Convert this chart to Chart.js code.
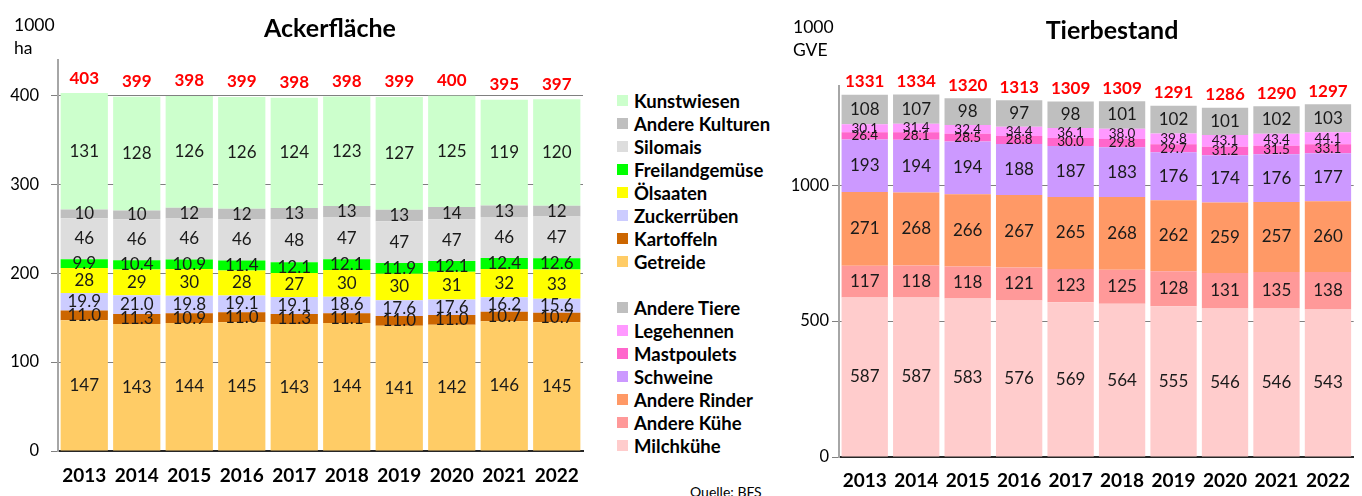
<!DOCTYPE html>
<html lang="de">
<head>
<meta charset="UTF-8">
<title>Ackerfläche und Tierbestand</title>
<script src="https://cdn.jsdelivr.net/npm/chart.js"></script>
<style>
    body {
        margin: 0;
        width: 1362px;
        height: 496px;
        overflow: hidden;
        position: relative;
        background: #fff;
        color: #000;
        font-family: Lato, 'Open Sans', sans-serif;
    }
    canvas { position: absolute; top: 0; }
    #acker { left: 0; }
    #tiere { left: 780px; }
    .title {
        position: absolute;
        font-weight: bold;
        font-size: 25px;
        transform: translateX(-50%);
        white-space: nowrap;
    }
    .unit { position: absolute; font-size: 17.5px; line-height: 23px; }
    .legend { position: absolute; left: 617px; font-weight: bold; font-size: 18.5px; }
    .legend div { height: 23px; display: flex; align-items: center; white-space: nowrap; }
    .legend .box { width: 11px; height: 11px; margin-right: 6px; flex: none; }
    .source { position: absolute; left: 690px; top: 483px; font-size: 14px; }
</style>
</head>
<body>
    <canvas id="acker" width="600" height="496"></canvas>
    <canvas id="tiere" width="582" height="496"></canvas>

    <div class="title" style="left:330px; top:12px;">Ackerfläche</div>
    <div class="title" style="left:1112px; top:14px;">Tierbestand</div>
    <div class="unit" style="left:14px; top:13px;">1000<br>ha</div>
    <div class="unit" style="left:793px; top:15px;">1000<br>GVE</div>
    <div class="legend" id="legAcker" style="top:89px;"></div>
    <div class="legend" id="legTiere" style="top:296px;"></div>
    <div class="source">Quelle: BFS</div>

<script>
    // years
    const years = ['2013', '2014', '2015', '2016', '2017', '2018', '2019', '2020', '2021', '2022'];

    // Ackerfläche, 1000 ha
    const getreide       = [147, 143, 144, 145, 143, 144, 141, 142, 146, 145];
    const kartoffeln     = [11.0, 11.3, 10.9, 11.0, 11.3, 11.1, 11.0, 11.0, 10.7, 10.7];
    const zuckerrueben   = [19.9, 21.0, 19.8, 19.1, 19.1, 18.6, 17.6, 17.6, 16.2, 15.6];
    const oelsaaten      = [28, 29, 30, 28, 27, 30, 30, 31, 32, 33];
    const freilandgemuese = [9.9, 10.4, 10.9, 11.4, 12.1, 12.1, 11.9, 12.1, 12.4, 12.6];
    const silomais       = [46, 46, 46, 46, 48, 47, 47, 47, 46, 47];
    const andereKulturen = [10, 10, 12, 12, 13, 13, 13, 14, 13, 12];
    const kunstwiesen    = [131, 128, 126, 126, 124, 123, 127, 125, 119, 120];
    const ackerTotals    = [403, 399, 398, 399, 398, 398, 399, 400, 395, 397];
    const ackerTicks     = [0, 100, 200, 300, 400];

    // Tierbestand, 1000 GVE
    const milchkuehe    = [587, 587, 583, 576, 569, 564, 555, 546, 546, 543];
    const andereKuehe   = [117, 118, 118, 121, 123, 125, 128, 131, 135, 138];
    const andereRinder  = [271, 268, 266, 267, 265, 268, 262, 259, 257, 260];
    const schweine      = [193, 194, 194, 188, 187, 183, 176, 174, 176, 177];
    const mastpoulets   = [26.4, 28.1, 28.5, 28.8, 30.0, 29.8, 29.7, 31.2, 31.5, 33.1];
    const legehennen    = [30.1, 31.4, 32.4, 34.4, 36.1, 38.0, 39.8, 43.1, 43.4, 44.1];
    const andereTiere   = [108, 107, 98, 97, 98, 101, 102, 101, 102, 103];
    const tierTotals    = [1331, 1334, 1320, 1313, 1309, 1309, 1291, 1286, 1290, 1297];
    const tierTicks     = [0, 500, 1000];

    // stacking order bottom -> top
    const ackerSeries = [
        { name: 'Getreide', data: getreide, color: '#FFCC66' },
        { name: 'Kartoffeln', data: kartoffeln, color: '#CC6600', decimals: 1 },
        { name: 'Zuckerrüben', data: zuckerrueben, color: '#CCCCFF', decimals: 1 },
        { name: 'Ölsaaten', data: oelsaaten, color: '#FFFF00' },
        { name: 'Freilandgemüse', data: freilandgemuese, color: '#00FF00', decimals: 1 },
        { name: 'Silomais', data: silomais, color: '#DDDDDD' },
        { name: 'Andere Kulturen', data: andereKulturen, color: '#BFBFBF' },
        { name: 'Kunstwiesen', data: kunstwiesen, color: '#CCFFCC' }
    ];
    const tierSeries = [
        { name: 'Milchkühe', data: milchkuehe, color: '#FFCCCC' },
        { name: 'Andere Kühe', data: andereKuehe, color: '#FF9999' },
        { name: 'Andere Rinder', data: andereRinder, color: '#FF9966' },
        { name: 'Schweine', data: schweine, color: '#CC99FF' },
        { name: 'Mastpoulets', data: mastpoulets, color: '#FF66CC', decimals: 1, size: 13.5 },
        { name: 'Legehennen', data: legehennen, color: '#FF99FF', decimals: 1, size: 13.5 },
        { name: 'Andere Tiere', data: andereTiere, color: '#BFBFBF' }
    ];

    // values inside the segments + red totals on top
    const segmentLabels = {
        id: 'segmentLabels',
        afterDatasetsDraw(chart, args, opts) {
            const ctx = chart.ctx;
            ctx.save();
            ctx.textAlign = 'center';
            ctx.textBaseline = 'middle';
            chart.data.datasets.forEach((ds, i) => {
                const meta = chart.getDatasetMeta(i);
                ctx.font = (ds.labelSize || 17) + 'px Lato';
                ctx.fillStyle = '#1a1a1a';
                meta.data.forEach((bar, j) => {
                    ctx.fillText(ds.data[j].toFixed(ds.decimals || 0), bar.x, (bar.y + bar.base) / 2);
                });
            });
            const top = chart.getDatasetMeta(chart.data.datasets.length - 1);
            ctx.font = 'bold 17px Lato';
            ctx.fillStyle = '#FF0000';
            top.data.forEach((bar, j) => {
                ctx.fillText(opts.totals[j], bar.x, bar.y - opts.offset);
            });
            ctx.restore();
        }
    };

    function makeChart(id, series, totals, tickValues, cfg) {
        return new Chart(document.getElementById(id), {
            type: 'bar',
            data: {
                labels: years,
                datasets: series.map(s => ({
                    label: s.name,
                    data: s.data,
                    backgroundColor: s.color,
                    decimals: s.decimals,
                    labelSize: s.size,
                    barPercentage: 0.9,
                    categoryPercentage: 1
                }))
            },
            options: {
                responsive: false,
                animation: false,
                devicePixelRatio: 1,
                layout: { padding: { top: cfg.top, right: cfg.right, left: 0, bottom: 0 } },
                plugins: {
                    legend: { display: false },
                    tooltip: { enabled: false },
                    segmentLabels: { totals: totals, offset: cfg.offset }
                },
                scales: {
                    x: {
                        stacked: true,
                        grid: { display: false, drawTicks: false },
                        border: { color: '#262626', width: 2 },
                        ticks: {
                            color: '#000',
                            padding: cfg.xPad,
                            maxRotation: 0,
                            font: { family: 'Lato', size: 19, weight: 'bold' }
                        },
                        afterFit: s => { s.height = cfg.xHeight; }
                    },
                    y: {
                        stacked: true,
                        min: 0,
                        max: cfg.max,
                        ticks: {
                            padding: cfg.tickPad,
                            color: '#000',
                            font: { family: 'Lato', size: 16.5 },
                            callback: v => String(v)
                        },
                        grid: { color: '#808080', tickLength: 7 },
                        border: { color: '#A6A6A6', width: 2 },
                        afterBuildTicks: s => { s.ticks = tickValues.map(v => ({ value: v })); },
                        afterFit: s => { s.width = cfg.yWidth; }
                    }
                }
            },
            plugins: [segmentLabels]
        });
    }

    makeChart('acker', ackerSeries, ackerTotals, ackerTicks,
        { top: 60, right: 17, max: 440, tickPad: 12, yWidth: 58, xHeight: 45, xPad: 13, offset: 15 });
    makeChart('tiere', tierSeries, tierTotals, tierTicks,
        { top: 86, right: 0, max: 1365, tickPad: 3, yWidth: 59, xHeight: 39, xPad: 12, offset: 13 });

    function buildLegend(elId, series) {
        const el = document.getElementById(elId);
        series.slice().reverse().forEach(s => {
            const row = document.createElement('div');
            const box = document.createElement('span');
            box.className = 'box';
            box.style.background = s.color;
            row.appendChild(box);
            row.appendChild(document.createTextNode(s.name));
            el.appendChild(row);
        });
    }
    buildLegend('legAcker', ackerSeries);
    buildLegend('legTiere', tierSeries);
</script>
</body>
</html>
